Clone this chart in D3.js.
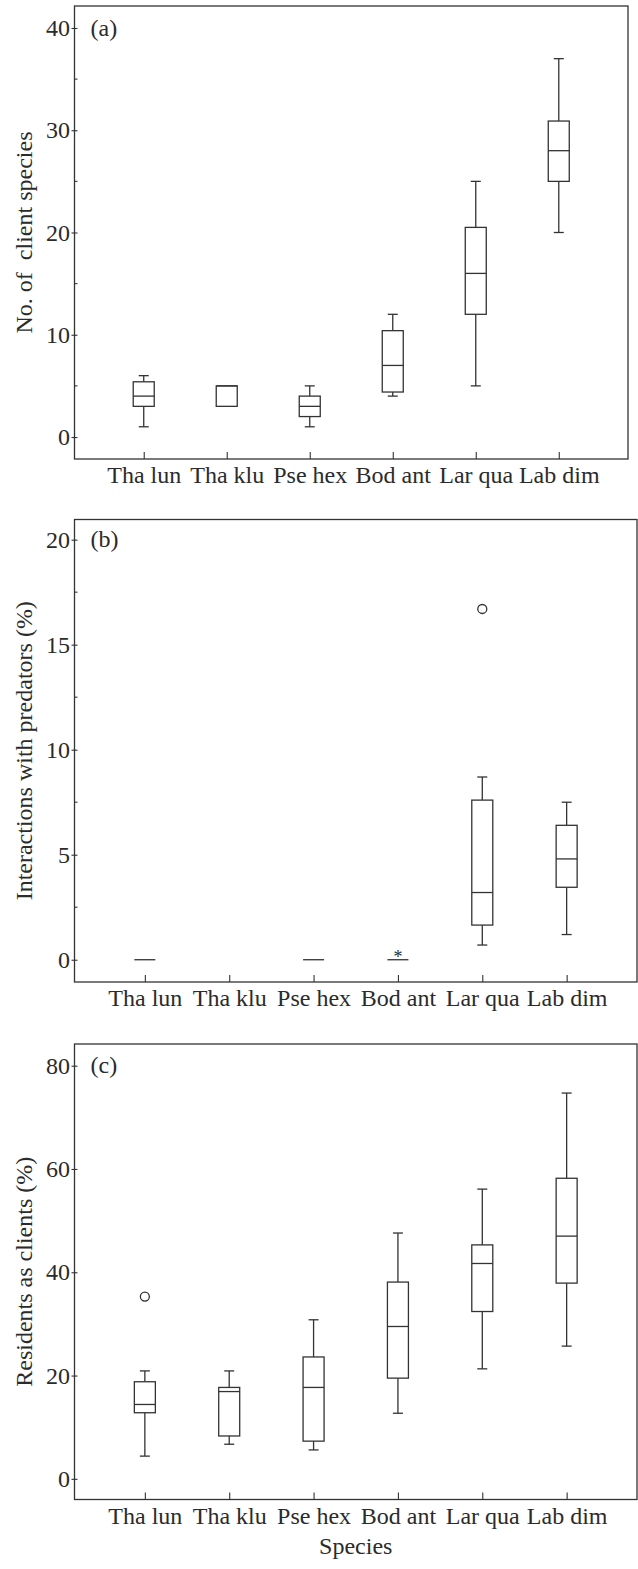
<!DOCTYPE html>
<html>
<head>
<meta charset="utf-8">
<script src="https://cdn.jsdelivr.net/npm/d3@7"></script>
<style>
  body { margin: 0; background: #fff; }
  text { font-family: "Liberation Serif", "Times New Roman", serif; fill: #2b2b2b; }
</style>
</head>
<body>
<div id="chart"></div>
<script>
var species = ["Tha lun", "Tha klu", "Pse hex", "Bod ant", "Lar qua", "Lab dim"];

// (a) number of client species
var clientLo  = [1, 3, 1, 4, 5, 20];
var clientQ1  = [3, 3, 2, 4.4, 12, 25];
var clientMed = [4, 5, 3, 7, 16, 28];
var clientQ3  = [5.4, 5, 4, 10.4, 20.5, 30.9];
var clientHi  = [6, 5, 5, 12, 25, 37];

// (b) interactions with predators (%)
var predLo  = [0, null, 0, 0, 0.7, 1.2];
var predQ1  = [0, null, 0, 0, 1.65, 3.45];
var predMed = [0, null, 0, 0, 3.2, 4.8];
var predQ3  = [0, null, 0, 0, 7.6, 6.4];
var predHi  = [0, null, 0, 0, 8.7, 7.5];
var predOutliers = [
  { sp: "Lar qua", v: 16.7, mark: "o" },
  { sp: "Bod ant", v: 0.25, mark: "*" }
];

// (c) residents as clients (%)
var residLo  = [4.4, 6.7, 5.6, 12.7, 21.3, 25.7];
var residQ1  = [12.8, 8.3, 7.3, 19.5, 32.4, 37.9];
var residMed = [14.4, 16.9, 17.7, 29.5, 41.7, 47.0];
var residQ3  = [18.8, 17.7, 23.6, 38.1, 45.3, 58.2];
var residHi  = [20.9, 20.9, 30.8, 47.6, 56.1, 74.7];
var residOutliers = [
  { sp: "Tha lun", v: 35.3, mark: "o" }
];

var panels = [
  { tag: "(a)", title: "No. of  client species", left: 74.5, right: 628, top: 6, bottom: 459,
    domain: [-2.15, 42.15], major: [0, 10, 20, 30, 40], minor: [5, 15, 25, 35],
    lo: clientLo, q1: clientQ1, med: clientMed, q3: clientQ3, hi: clientHi, outliers: [] },
  { tag: "(b)", title: "Interactions with predators (%)", left: 74.5, right: 637, top: 519.5, bottom: 982,
    domain: [-1.06, 20.96], major: [0, 5, 10, 15, 20], minor: [2.5, 7.5, 12.5, 17.5],
    lo: predLo, q1: predQ1, med: predMed, q3: predQ3, hi: predHi, outliers: predOutliers },
  { tag: "(c)", title: "Residents as clients (%)", left: 74.5, right: 637, top: 1044, bottom: 1499.5,
    domain: [-4.0, 84.2], major: [0, 20, 40, 60, 80], minor: [],
    lo: residLo, q1: residQ1, med: residMed, q3: residQ3, hi: residHi, outliers: residOutliers }
];

var W = 638, H = 1569;
var lineColor = "#333";
var fontSize = 24;
var boxW = 21, capW = 10;

var svg = d3.select("#chart").append("svg")
  .attr("width", W).attr("height", H);

panels.forEach(function(p) {
  var x = d3.scalePoint().domain(species).range([p.left, p.right]).padding(0.834);
  var y = d3.scaleLinear().domain(p.domain).range([p.bottom, p.top]);
  var g = svg.append("g");

  // frame
  g.append("rect")
    .attr("x", p.left).attr("y", p.top)
    .attr("width", p.right - p.left).attr("height", p.bottom - p.top)
    .attr("fill", "none").attr("stroke", lineColor).attr("stroke-width", 1.3);

  // y axis
  var yAxis = g.append("g")
    .attr("transform", "translate(" + p.left + ",0)")
    .call(d3.axisLeft(y).tickValues(p.major).tickSize(3).tickPadding(1.5));
  yAxis.select(".domain").remove();
  yAxis.selectAll("line").attr("x1", -3).attr("x2", 3)
    .attr("stroke", lineColor).attr("stroke-width", 1.1);
  yAxis.selectAll("text").attr("font-size", fontSize).attr("font-family", null);

  g.selectAll(".minor").data(p.minor).enter().append("line")
    .attr("x1", p.left).attr("x2", p.left + 3)
    .attr("y1", function(d) { return y(d); })
    .attr("y2", function(d) { return y(d); })
    .attr("stroke", lineColor).attr("stroke-width", 1.1);

  // x axis
  var xAxis = g.append("g")
    .attr("transform", "translate(0," + p.bottom + ")")
    .call(d3.axisBottom(x).tickSize(-7).tickPadding(7));
  xAxis.select(".domain").remove();
  xAxis.selectAll("line").attr("stroke", lineColor).attr("stroke-width", 1.1);
  xAxis.selectAll("text").attr("font-size", fontSize).attr("font-family", null);

  // panel tag
  g.append("text")
    .attr("x", p.left + 16)
    .attr("y", y(p.major[p.major.length - 1]))
    .attr("dy", "0.32em")
    .attr("font-size", fontSize)
    .text(p.tag);

  // y title
  g.append("text")
    .attr("transform", "translate(31.5," + (p.top + p.bottom) / 2 + ") rotate(-90)")
    .attr("text-anchor", "middle")
    .attr("font-size", fontSize)
    .style("white-space", "pre")
    .text(p.title);

  // boxes
  species.forEach(function(sp, i) {
    if (p.med[i] == null) return;
    var cx = x(sp);
    var b = g.append("g").attr("stroke", lineColor).attr("stroke-width", 1.3).attr("fill", "none");
    // whiskers
    if (p.hi[i] > p.q3[i]) {
      b.append("line").attr("x1", cx).attr("x2", cx).attr("y1", y(p.q3[i])).attr("y2", y(p.hi[i]));
      b.append("line").attr("x1", cx - capW / 2).attr("x2", cx + capW / 2).attr("y1", y(p.hi[i])).attr("y2", y(p.hi[i]));
    }
    if (p.lo[i] < p.q1[i]) {
      b.append("line").attr("x1", cx).attr("x2", cx).attr("y1", y(p.q1[i])).attr("y2", y(p.lo[i]));
      b.append("line").attr("x1", cx - capW / 2).attr("x2", cx + capW / 2).attr("y1", y(p.lo[i])).attr("y2", y(p.lo[i]));
    }
    if (p.q3[i] > p.q1[i]) {
      b.append("rect")
        .attr("x", cx - boxW / 2).attr("y", y(p.q3[i]))
        .attr("width", boxW).attr("height", y(p.q1[i]) - y(p.q3[i]))
        .attr("fill", "#fff");
    }
    b.append("line")
      .attr("x1", cx - boxW / 2).attr("x2", cx + boxW / 2)
      .attr("y1", y(p.med[i])).attr("y2", y(p.med[i]));
  });

  // outliers
  p.outliers.forEach(function(o) {
    if (o.mark == "o") {
      g.append("circle")
        .attr("cx", x(o.sp)).attr("cy", y(o.v)).attr("r", 4.5)
        .attr("fill", "none").attr("stroke", lineColor).attr("stroke-width", 1.3);
    } else {
      g.append("text")
        .attr("x", x(o.sp)).attr("y", y(o.v))
        .attr("dy", "0.47em")
        .attr("text-anchor", "middle")
        .attr("font-size", 18)
        .text("*");
    }
  });
});

// x title
var last = panels[panels.length - 1];
svg.append("text")
  .attr("x", (last.left + last.right) / 2)
  .attr("y", 1554)
  .attr("text-anchor", "middle")
  .attr("font-size", fontSize)
  .text("Species");
</script>
</body>
</html>
